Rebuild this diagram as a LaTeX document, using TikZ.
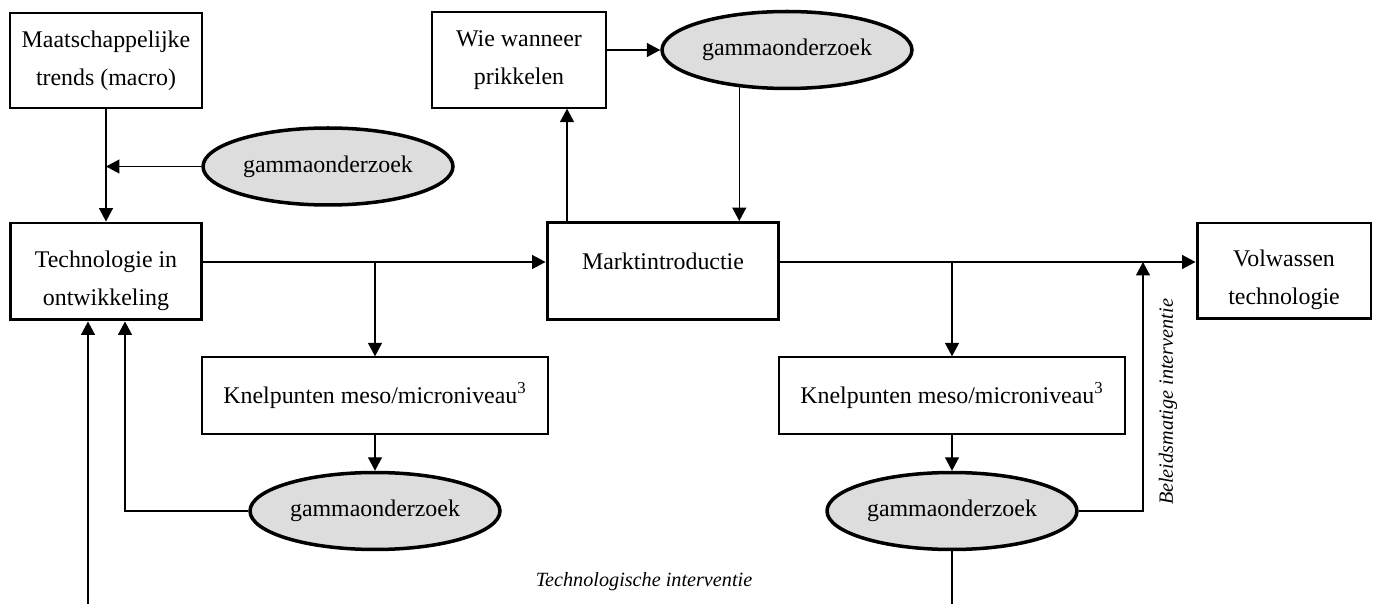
\documentclass[tikz,border=0pt]{standalone}
\usepackage{fontspec}
\setmainfont{Liberation Serif}
\usetikzlibrary{arrows.meta}
\usetikzlibrary{shapes.geometric}
\definecolor{gammagrijs}{RGB}{221,221,221}

\begin{document}
\begin{tikzpicture}[x=0.02cm,y=-0.02cm,
    font=\fontsize{13.6}{21.6}\selectfont,
    blok/.style={draw,line width=0.75pt,align=center,inner sep=0pt},
    dikblok/.style={blok,line width=1.7pt,label={[align=center,yshift=-0.18cm]center:#1}},
    gamma/.style={draw,ellipse,fill=gammagrijs,line width=2pt,minimum width=5cm,minimum height=1.54cm,inner sep=0pt},
    pijl/.style={-{Triangle[length=2.7mm,width=2.8mm]},line width=0.8pt},
    lijn/.style={line width=0.8pt},
    schuin/.style={font=\fontsize{11.5}{14}\selectfont\itshape}]
    \useasboundingbox (0,0) rectangle (1377,604);

    % bovenste rij
    \node[blok,minimum width=3.84cm,minimum height=1.9cm] (maat) at (106,60.5) {Maatschappelijke\\trends (macro)};
    \node[gamma] (gam1) at (328,166.5) {gammaonderzoek};
    \node[blok,minimum width=3.48cm,minimum height=1.92cm] (wie) at (519,60) {Wie wanneer\\prikkelen};
    \node[gamma] (gam2) at (787,50) {gammaonderzoek};

    % hoofdlijn
    \node[dikblok={Technologie in\\ontwikkeling},minimum width=3.84cm,minimum height=1.94cm] (tech) at (106,271.5) {};
    \node[dikblok={Marktintroductie\\~},minimum width=4.64cm,minimum height=1.94cm] (markt) at (663,271) {};
    \node[dikblok={Volwassen\\technologie},minimum width=3.48cm,minimum height=1.92cm] (vol) at (1284,271) {};

    % knelpunten
    \node[blok,minimum width=6.92cm,minimum height=1.54cm] (knel1) at (375,395.5) {Knelpunten meso/microniveau\textsuperscript{3}};
    \node[blok,minimum width=6.92cm,minimum height=1.54cm] (knel2) at (952,395.5) {Knelpunten meso/microniveau\textsuperscript{3}};
    \node[gamma] (gam3) at (375,511) {gammaonderzoek};
    \node[gamma] (gam4) at (952,511) {gammaonderzoek};

    \node[schuin] (techint) at (644,582) {Technologische interventie};
    \node[schuin,rotate=90] (beleid) at (1168,402) {Beleidsmatige interventie};

    \coordinate (lijnhoogte) at (0,262);
    \coordinate (onderrand) at (0,604);
    \coordinate (j1) at (knel1.north |- lijnhoogte);
    \coordinate (j2) at (knel2.north |- lijnhoogte);
    \coordinate (j3) at (1143,262);
    \coordinate (onder1) at (88,604);
    \coordinate (m1) at ([xshift=-1.92cm]markt.north);
    \coordinate (g2o) at (gam2.-142.8);

    \draw[pijl] (maat) -- (tech);
    \draw[pijl] (gam1.west) -- (gam1.west -| maat.south);
    \draw[pijl] (tech.east |- lijnhoogte) -- (markt.west |- lijnhoogte);
    \draw[pijl] (markt.east |- lijnhoogte) -- (vol.west |- lijnhoogte);
    \draw[pijl] (j1) -- (knel1.north);
    \draw[pijl] (j2) -- (knel2.north);
    \draw[pijl] (knel1) -- (gam3);
    \draw[pijl] (knel2) -- (gam4);
    \draw[pijl] (gam3.west) -| ([xshift=0.38cm]tech.south);
    \draw[pijl] (onder1) -- (onder1 |- tech.south);
    \draw[pijl] (gam4.east) -| (j3);
    \draw[lijn] (gam4.south) -- (gam4.south |- onderrand);
    \draw[pijl] (m1) -- (m1 |- wie.south);
    \draw[pijl] (wie.east |- gam2.west) -- (gam2.west);
    \draw[pijl] (g2o) -- (g2o |- markt.north);
\end{tikzpicture}
\end{document}
